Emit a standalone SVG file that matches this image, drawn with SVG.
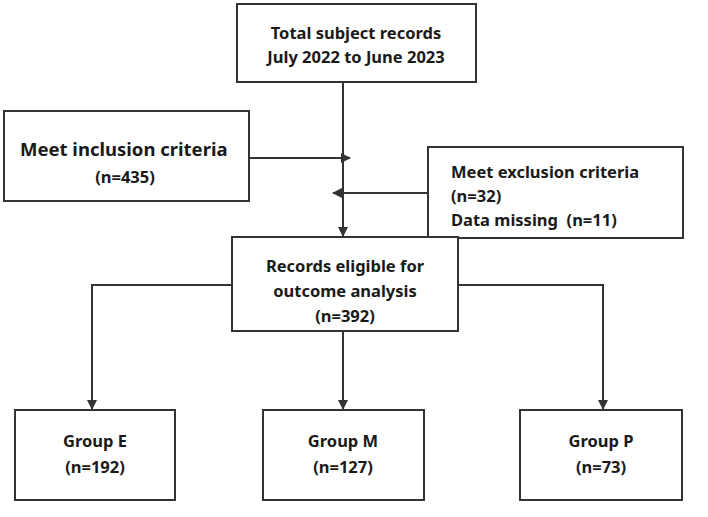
<svg xmlns="http://www.w3.org/2000/svg" width="708" height="517" viewBox="0 0 708 517">
<style>
rect{fill:#fff;stroke:#333;stroke-width:2}
text{font-family:"Noto Sans","Liberation Sans",sans-serif;font-weight:bold;font-size:16.5px;fill:#1a1a1a}
.c{text-anchor:middle}
.big{font-size:18.5px}
.l{fill:none;stroke:#333;stroke-width:2}
</style>
<defs><marker id="a" markerWidth="10" markerHeight="10" refX="9" refY="5" orient="auto" markerUnits="userSpaceOnUse"><path d="M0,0 L10,5 L0,10 Z" fill="#333"/></marker></defs>
<rect width="708" height="517" style="stroke:none"/>
<g id="connectors">
<path class="l" d="M343,82 V236" marker-end="url(#a)"/>
<path class="l" d="M249,158 H350" marker-end="url(#a)"/>
<path class="l" d="M428,193 H333" marker-end="url(#a)"/>
<path class="l" d="M232,285 H92 V409" marker-end="url(#a)"/>
<path class="l" d="M458,285 H603 V409" marker-end="url(#a)"/>
<path class="l" d="M343,331 V409" marker-end="url(#a)"/>
</g>
<g id="total"><rect x="237" y="4" width="239" height="78"/><text class="c" x="356" y="39">Total subject records</text><text class="c" x="356" y="63">July 2022 to June 2023</text></g>
<g id="inclusion"><rect x="4" y="111" width="245" height="90"/><text class="big" x="20" y="156">Meet inclusion criteria</text><text class="c" x="125" y="183">(n=435)</text></g>
<g id="exclusion"><rect x="428" y="147" width="255" height="91"/><text x="451" y="178">Meet exclusion criteria</text><text x="451" y="202">(n=32)</text><text x="451" y="226" xml:space="preserve">Data missing  (n=11)</text></g>
<g id="eligible"><rect x="232" y="237" width="226" height="94"/><text class="c" x="345" y="272">Records eligible for</text><text class="c" x="345" y="297">outcome analysis</text><text class="c" x="345" y="322">(n=392)</text></g>
<g id="groupE"><rect x="15" y="410" width="160" height="90"/><text class="c" x="95" y="447">Group E</text><text class="c" x="95" y="473">(n=192)</text></g>
<g id="groupM"><rect x="263" y="410" width="161" height="90"/><text class="c" x="343" y="447">Group M</text><text class="c" x="343" y="473">(n=127)</text></g>
<g id="groupP"><rect x="520" y="410" width="162" height="90"/><text class="c" x="601" y="447">Group P</text><text class="c" x="601" y="473">(n=73)</text></g>
</svg>
